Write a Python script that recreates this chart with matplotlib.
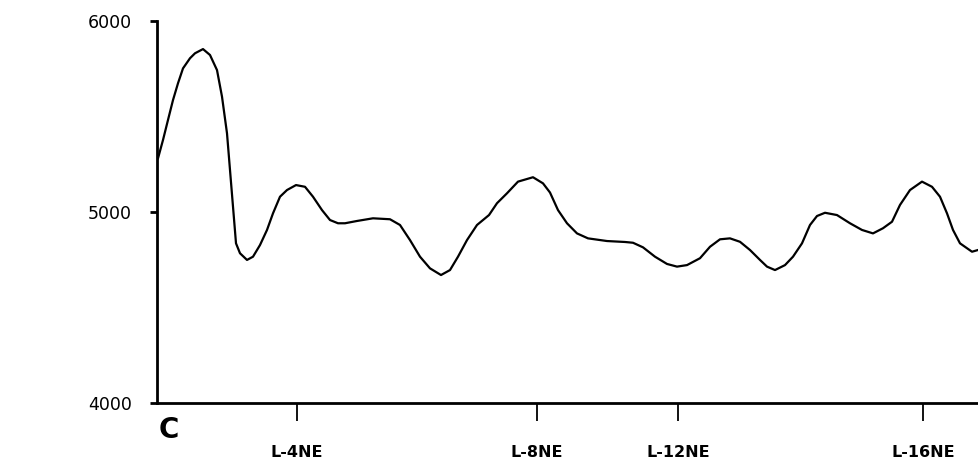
import matplotlib
matplotlib.use("Agg")
import matplotlib.pyplot as plt

# distance along profile (arbitrary units) and values
dist = [1, 6, 11, 16, 21, 26, 33, 38, 46, 53, 60, 65, 70, 73, 76, 79, 83, 90, 96,
        103, 110, 116, 123, 130, 139, 148, 156, 165, 173, 181, 188, 200, 216, 233,
        243, 253, 263, 273, 284, 293, 301, 310, 320, 332, 340, 350, 361, 376, 386,
        393, 401, 410, 420, 431, 450, 468, 476, 486, 498, 510, 520, 530, 543, 553,
        563, 573, 583, 593, 603, 610, 618, 628, 636, 645, 653, 660, 668, 680, 693,
        705, 716, 726, 735, 743, 753, 765, 775, 783, 790, 796, 803, 815, 821]
value = [5281, 5377, 5482, 5586, 5674, 5752, 5805, 5831, 5853, 5822, 5743, 5604,
         5412, 5220, 5028, 4836, 4784, 4749, 4766, 4827, 4906, 4993, 5080, 5115,
         5141, 5132, 5080, 5010, 4958, 4941, 4941, 4953, 4967, 4962, 4932, 4853,
         4766, 4705, 4670, 4696, 4766, 4853, 4932, 4984, 5046, 5098, 5159, 5182,
         5150, 5102, 5010, 4941, 4888, 4862, 4848, 4843, 4839, 4815, 4766, 4728,
         4714, 4722, 4758, 4818, 4857, 4862, 4844, 4801, 4749, 4714, 4696, 4722,
         4766, 4836, 4932, 4979, 4996, 4984, 4941, 4906, 4888, 4915, 4949, 5037,
         5115, 5159, 5132, 5080, 4993, 4906, 4836, 4792, 4801]

line_pos = [140, 380, 521, 766]
line_labels = ["L-4NE", "L-8NE", "L-12NE", "L-16NE"]
y_ticks = [4000, 5000, 6000]
y_labels = ["4000", "5000", "6000"]

W, H = 979, 463
fig = plt.figure(figsize=(W / 100, H / 100), dpi=100)
ax = fig.add_axes([157 / W, (H - 403) / H, (W - 157) / W, (403 - 21) / H])

ax.plot(dist, value, color="black", lw=1.6, solid_joinstyle="round")

ax.set_xlim(0, 822)
ax.set_ylim(4000, 6000)

for s in ["top", "right"]:
    ax.spines[s].set_visible(False)
ax.spines["left"].set_linewidth(2.0)
ax.spines["bottom"].set_linewidth(2.0)

ax.set_yticks(y_ticks)
ax.set_yticklabels(y_labels, fontsize=12.5)
ax.tick_params(axis="y", direction="out", length=5, width=2, pad=13)

ax.set_xticks(line_pos)
ax.set_xticklabels(line_labels, fontsize=11.5, fontweight="bold")
ax.tick_params(axis="x", direction="out", length=13, width=1.3, pad=17)

fig.text(169 / W, 1 - 430 / H, "C", fontsize=20, fontweight="bold",
         ha="center", va="center")

fig.savefig("out.png", dpi=100)
